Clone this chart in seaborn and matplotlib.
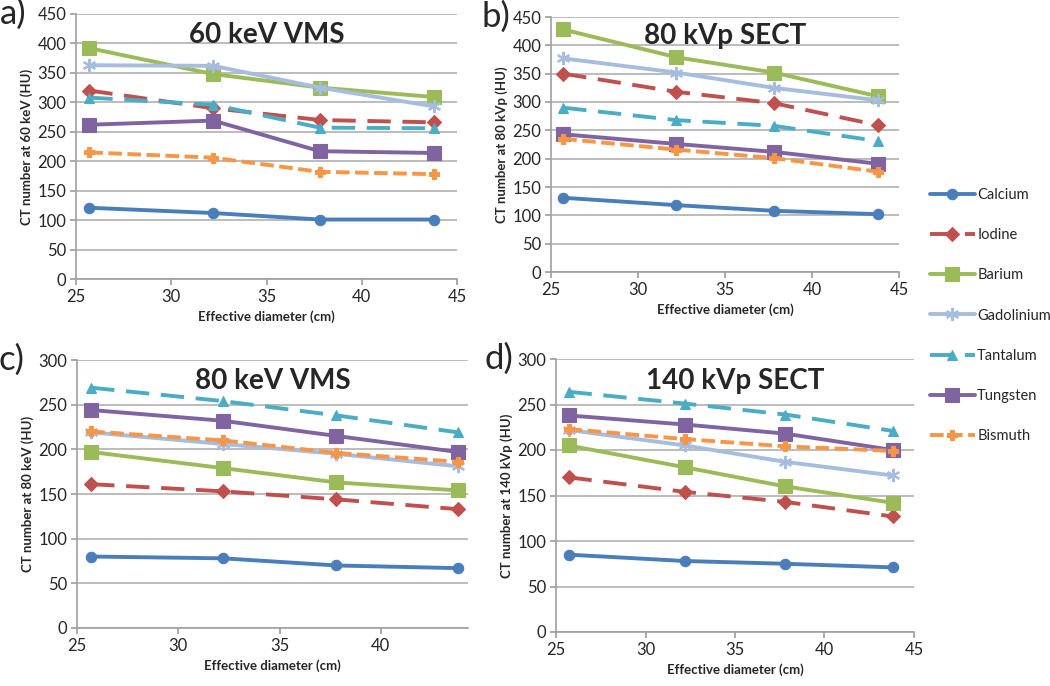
import numpy as np
import pandas as pd
import seaborn as sns
import matplotlib.pyplot as plt

# effective diameters (cm) of the four phantom sizes
diameters = [25.7, 32.2, 37.8, 43.8]

materials = ["Calcium", "Iodine", "Barium", "Gadolinium", "Tantalum", "Tungsten", "Bismuth"]

# CT numbers (HU), one list per material in the order above
vms60 = [
    [121, 112, 101, 101],
    [320, 290, 270, 266],
    [392, 348, 325, 309],
    [363, 362, 325, 293],
    [308, 296, 257, 256],
    [262, 269, 217, 214],
    [215, 206, 182, 178],
]
sect80 = [
    [131, 118, 108, 102],
    [350, 318, 298, 259],
    [428, 379, 352, 310],
    [377, 352, 325, 303],
    [290, 268, 258, 231],
    [243, 226, 212, 191],
    [235, 216, 201, 177],
]
vms80 = [
    [80, 78, 70, 67],
    [161, 153, 144, 133],
    [197, 179, 163, 154],
    [219, 206, 195, 181],
    [269, 254, 238, 219],
    [244, 232, 215, 197],
    [220, 210, 196, 186],
]
sect140 = [
    [85, 78, 75, 71],
    [170, 154, 143, 127],
    [205, 181, 160, 142],
    [222, 205, 187, 172],
    [264, 251, 239, 221],
    [238, 228, 218, 200],
    [223, 212, 204, 199],
]

panels = [
    ("a)", "60 keV VMS", "CT number at 60 keV (HU)", vms60, 450),
    ("b)", "80 kVp SECT", "CT number at 80 kVp (HU)", sect80, 450),
    ("c)", "80 keV VMS", "CT number at 80 keV (HU)", vms80, 300),
    ("d)", "140 kVp SECT", "CT number at 140 kVp (HU)", sect140, 300),
]

colors = {
    "Calcium": "#4a7ebb",
    "Iodine": "#c0504d",
    "Barium": "#9bbb59",
    "Gadolinium": "#a7bde0",
    "Tantalum": "#4bacc6",
    "Tungsten": "#8064a2",
    "Bismuth": "#f79646",
}
markers = {
    "Calcium": "o",
    "Iodine": "D",
    "Barium": "s",
    "Gadolinium": (6, 2, 0),
    "Tantalum": "^",
    "Tungsten": "s",
    "Bismuth": "P",
}
styles = {
    "Calcium": "-",
    "Iodine": (0, (6, 3)),
    "Barium": "-",
    "Gadolinium": "-",
    "Tantalum": (0, (6, 3)),
    "Tungsten": "-",
    "Bismuth": (0, (3.5, 1.4)),
}

sns.set_theme(style="white")
plt.rcParams["font.family"] = ["Lato", "DejaVu Sans"]

fig = plt.figure(figsize=(10.5, 6.86), dpi=100)
W, H = 1050, 686
# axes boxes in pixels: left, top, right, bottom
boxes = [(76, 14, 457, 279), (551, 17, 899, 272), (77, 360, 468, 628), (556, 359, 914, 632)]
xlims = [(25, 45), (25, 45), (25, 44.3), (25, 45)]

for (letter, title, ylabel, values, ymax), (l, t, r, b), xl in zip(panels, boxes, xlims):
    ax = fig.add_axes([l / W, 1 - b / H, (r - l) / W, (b - t) / H])
    rows = []
    for name, ys in zip(materials, values):
        for x, y in zip(diameters, ys):
            rows.append({"material": name, "diameter": x, "ct": y})
    df = pd.DataFrame(rows)
    for name in materials:
        sub = df[df["material"] == name]
        mk = markers[name]
        sns.lineplot(
            data=sub, x="diameter", y="ct", ax=ax, color=colors[name],
            linestyle=styles[name], linewidth=2.8, marker=mk,
            markersize=9.5 if mk in ("s", (6, 2, 0)) else 7.5,
            markeredgewidth=1.5 if mk == (6, 2, 0) else 0.8,
            markeredgecolor=colors[name], label=name,
            dash_capstyle="butt",
        )
    ax.set_xlim(*xl)
    ax.set_ylim(0, ymax)
    ax.set_xticks([25, 30, 35, 40, 45] if xl[1] >= 45 else [25, 30, 35, 40])
    ax.set_yticks(np.arange(0, ymax + 1, 50))
    ax.yaxis.grid(True, color="#b0b0b0", linewidth=1.2)
    ax.set_axisbelow(True)
    for s in ["top", "right"]:
        ax.spines[s].set_visible(False)
    for s in ["left", "bottom"]:
        ax.spines[s].set_color("#a0a0a0")
        ax.spines[s].set_linewidth(1.2)
    ax.tick_params(axis="both", length=4, color="#a0a0a0", labelsize=12, direction="out",
                   bottom=True, left=True, pad=3)
    ax.set_xlabel("Effective diameter (cm)", fontsize=9.5, fontweight="bold", labelpad=4)
    ax.set_ylabel(ylabel, fontsize=9.5, fontweight="bold", labelpad=3)
    ax.set_title(title, fontsize=20, fontweight="bold", y=0.86)
    ax.text(-0.2, 1.0, letter, transform=ax.transAxes, fontsize=25, va="center", ha="left")
    ax.get_legend().remove()
    handles, labels = ax.get_legend_handles_labels()

fig.legend(handles, labels, loc="upper left", bbox_to_anchor=(924 / W, 1 - 182 / H),
           frameon=False, fontsize=10.5, labelspacing=1.8, handlelength=3.1,
           handletextpad=0.15, borderaxespad=0)

fig.savefig("out.png", dpi=100)
